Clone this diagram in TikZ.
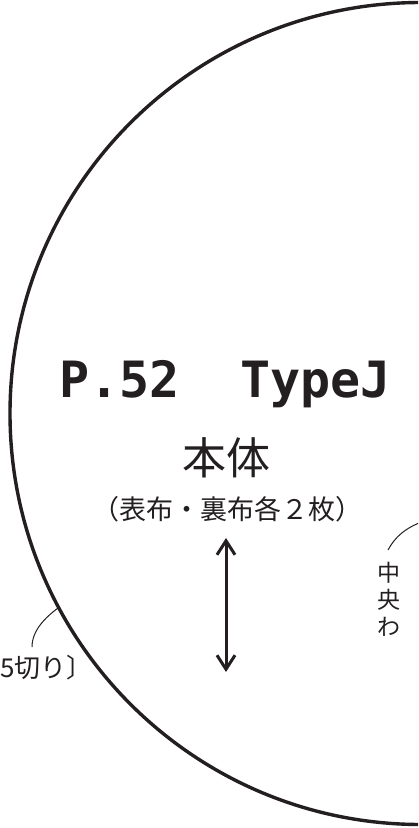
\documentclass[tikz,border=0pt]{standalone}
\usepackage{fontspec}
\newfontfamily\jpfont{Noto Sans CJK JP}
\newfontfamily\monofont{DejaVu Sans Mono}
\usetikzlibrary{arrows.meta}
\definecolor{ink}{HTML}{231F20}
\tikzstyle{outline} = [draw=ink, line width=1.7pt]
\tikzstyle{leader} = [draw=ink, line width=0.5pt]
\tikzstyle{grain} = [draw=ink, line width=1.5pt, {Straight Barb[length=7pt,width=9pt]}-{Straight Barb[length=7pt,width=9pt]}]
\tikzstyle{jptext} = [text=ink, inner sep=0pt, font=\jpfont]

\begin{document}
\begin{tikzpicture}[x=0.5pt, y=-0.5pt]
    \useasboundingbox (0,0) rectangle (418,828);
    \clip (0,0) rectangle (418,828);
    % pattern piece
    \path[outline] (421,413.5) circle (411);
    \node[text=ink, inner sep=0pt, anchor=base, font=\monofont\bfseries\fontsize{25}{30}\selectfont] (title) at (225,397) {P.52\ \ TypeJ};
    \node[jptext, font=\jpfont\fontsize{22}{26}\selectfont] (piece) at (226,458) {本体};
    \node[jptext, font=\jpfont\fontsize{13.5}{16}\selectfont] (parts) at (227,509) {（表布・裏布各２枚）};
    \node[jptext, font=\jpfont\fontsize{11.5}{12.75}\selectfont, align=center, anchor=north] (fold) at (389,562) {中\\[0.8pt]央\\[0.8pt]わ};
    \node[jptext, font=\jpfont\fontsize{13}{15}\selectfont, anchor=east] (cutnote) at (93,668) {5切り〕};
    % leaders
    \coordinate (cutpt) at (58,608);
    \coordinate (cutfoot) at (32,647);
    \draw[leader] (cutpt) .. controls (46,617) and (32,630) .. (cutfoot);
    \coordinate (foldfoot) at (388,550);
    \coordinate (foldtop) at (424,521);
    \draw[leader] (foldfoot) .. controls (395,537) and (405,528) .. (foldtop);
    % grain line
    \coordinate (graintop) at (226,538);
    \coordinate (grainbot) at (226,672);
    \draw[grain] (graintop) -- (grainbot);
\end{tikzpicture}
\end{document}
